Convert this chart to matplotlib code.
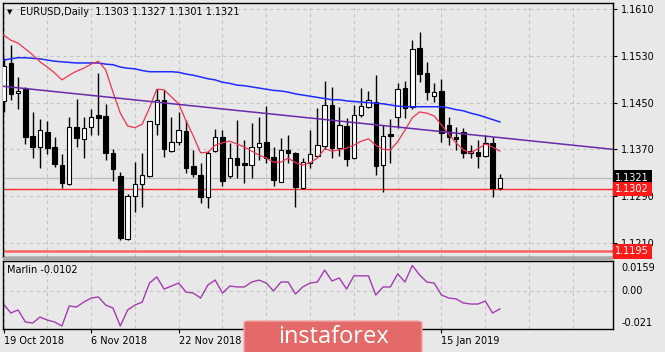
import matplotlib
matplotlib.use('Agg')
import matplotlib.pyplot as plt
from matplotlib.patches import Rectangle, FancyBboxPatch

# EURUSD daily bars, 19 Oct 2018 .. 25 Jan 2019
opens = [1.1453, 1.1518, 1.1466, 1.1473, 1.1393, 1.1374, 1.1400, 1.1374, 1.1343, 1.1311,
         1.1408, 1.1388, 1.1408, 1.1429, 1.1427, 1.1364, 1.1324, 1.1216, 1.1290, 1.1311,
         1.1324, 1.1413, 1.1455, 1.1367, 1.1383, 1.1401, 1.1341, 1.1326, 1.1288, 1.1367,
         1.1391, 1.1324, 1.1355, 1.1347, 1.1343, 1.1374, 1.1383, 1.1357, 1.1314, 1.1369,
         1.1364, 1.1304, 1.1347, 1.1359, 1.1376, 1.1446, 1.1372, 1.1410, 1.1355, 1.1429,
         1.1443, 1.1451, 1.1343, 1.1396, 1.1425, 1.1475, 1.1443, 1.1544, 1.1501, 1.1461,
         1.1470, 1.1412, 1.1391, 1.1400, 1.1364, 1.1365, 1.1358, 1.1381, 1.1303]
highs = [1.1526, 1.1549, 1.1494, 1.1477, 1.1434, 1.1422, 1.1419, 1.1391, 1.1362, 1.1425,
         1.1456, 1.1425, 1.1439, 1.1501, 1.1448, 1.1370, 1.1331, 1.1293, 1.1348, 1.1364,
         1.1419, 1.1473, 1.1472, 1.1425, 1.1434, 1.1420, 1.1369, 1.1346, 1.1367, 1.1405,
         1.1403, 1.1381, 1.1420, 1.1386, 1.1415, 1.1425, 1.1444, 1.1374, 1.1389, 1.1395,
         1.1365, 1.1355, 1.1403, 1.1441, 1.1487, 1.1477, 1.1443, 1.1424, 1.1446, 1.1475,
         1.1470, 1.1497, 1.1412, 1.1422, 1.1484, 1.1487, 1.1557, 1.1571, 1.1520, 1.1484,
         1.1490, 1.1425, 1.1408, 1.1406, 1.1377, 1.1386, 1.1395, 1.1391, 1.1327]
lows = [1.1434, 1.1454, 1.1439, 1.1379, 1.1355, 1.1338, 1.1362, 1.1340, 1.1304, 1.1309,
        1.1374, 1.1355, 1.1394, 1.1394, 1.1352, 1.1316, 1.1215, 1.1215, 1.1263, 1.1271,
        1.1323, 1.1394, 1.1357, 1.1365, 1.1377, 1.1329, 1.1323, 1.1278, 1.1269, 1.1365,
        1.1307, 1.1321, 1.1321, 1.1312, 1.1321, 1.1352, 1.1347, 1.1307, 1.1314, 1.1347,
        1.1271, 1.1302, 1.1338, 1.1357, 1.1370, 1.1355, 1.1359, 1.1341, 1.1353, 1.1425,
        1.1441, 1.1326, 1.1297, 1.1347, 1.1406, 1.1424, 1.1439, 1.1485, 1.1454, 1.1451,
        1.1382, 1.1377, 1.1369, 1.1355, 1.1355, 1.1338, 1.1357, 1.1288, 1.1301]
closes = [1.1513, 1.1465, 1.1470, 1.1391, 1.1374, 1.1403, 1.1372, 1.1345, 1.1312, 1.1408,
          1.1389, 1.1407, 1.1425, 1.1424, 1.1364, 1.1336, 1.1218, 1.1290, 1.1311, 1.1326,
          1.1419, 1.1455, 1.1371, 1.1383, 1.1403, 1.1338, 1.1328, 1.1288, 1.1364, 1.1391,
          1.1316, 1.1355, 1.1343, 1.1343, 1.1374, 1.1381, 1.1355, 1.1317, 1.1369, 1.1364,
          1.1305, 1.1348, 1.1362, 1.1377, 1.1446, 1.1372, 1.1412, 1.1353, 1.1429, 1.1444,
          1.1455, 1.1341, 1.1393, 1.1393, 1.1473, 1.1441, 1.1542, 1.1499, 1.1468, 1.1468,
          1.1398, 1.1391, 1.1388, 1.1364, 1.1367, 1.1358, 1.1381, 1.1304, 1.1321]

red_ma = [1.1566, 1.1557, 1.1552, 1.1542, 1.1532, 1.1520, 1.1511, 1.1501, 1.1489, 1.1497,
          1.1504, 1.1509, 1.1516, 1.1521, 1.1506, 1.1468, 1.1432, 1.1410, 1.1407, 1.1413,
          1.1441, 1.1473, 1.1472, 1.1460, 1.1448, 1.1419, 1.1393, 1.1364, 1.1365, 1.1377,
          1.1381, 1.1384, 1.1379, 1.1374, 1.1367, 1.1360, 1.1355, 1.1348, 1.1348, 1.1355,
          1.1347, 1.1343, 1.1347, 1.1355, 1.1371, 1.1367, 1.1369, 1.1372, 1.1377, 1.1384,
          1.1388, 1.1377, 1.1370, 1.1369, 1.1383, 1.1403, 1.1424, 1.1434, 1.1432, 1.1427,
          1.1412, 1.1396, 1.1381, 1.1369, 1.1364, 1.1371, 1.1379, 1.1374, 1.1367]
blue_ma = [1.1523, 1.1525, 1.1527, 1.1527, 1.1526, 1.1525, 1.1523, 1.1521, 1.1520, 1.1519,
           1.1518, 1.1518, 1.1518, 1.1518, 1.1516, 1.1515, 1.1511, 1.1509, 1.1508, 1.1505,
           1.1503, 1.1503, 1.1503, 1.1503, 1.1502, 1.1499, 1.1497, 1.1494, 1.1491, 1.1489,
           1.1485, 1.1483, 1.1480, 1.1479, 1.1477, 1.1475, 1.1473, 1.1471, 1.1470, 1.1468,
           1.1465, 1.1463, 1.1461, 1.1459, 1.1457, 1.1455, 1.1455, 1.1453, 1.1452, 1.1451,
           1.1450, 1.1449, 1.1448, 1.1446, 1.1444, 1.1443, 1.1443, 1.1443, 1.1443, 1.1443,
           1.1443, 1.1441, 1.1438, 1.1436, 1.1432, 1.1429, 1.1425, 1.1421, 1.1417]
marlin = [-0.0074, -0.0125, -0.0108, -0.0176, -0.0182, -0.0148, -0.0165, -0.0176, -0.0199, -0.0085,
          -0.0091, -0.0063, -0.0040, -0.0034, -0.0080, -0.0097, -0.0199, -0.0108, -0.0080, -0.0063,
          0.0045, 0.0080, 0.0011, 0.0028, 0.0045, -0.0006, -0.0012, -0.0040, 0.0034, 0.0062,
          -0.0012, 0.0028, 0.0023, 0.0023, 0.0051, 0.0062, 0.0045, 0.0000, 0.0051, 0.0051,
          -0.0017, 0.0023, 0.0045, 0.0051, 0.0119, 0.0057, 0.0074, 0.0011, 0.0086, 0.0086,
          0.0086, -0.0023, 0.0023, 0.0023, 0.0097, 0.0051, 0.0145, 0.0091, 0.0051, 0.0045,
          -0.0023, -0.0040, -0.0045, -0.0068, -0.0074, -0.0074, -0.0057, -0.0125, -0.0102]

price_ticks = [1.1610, 1.1530, 1.1450, 1.1370, 1.1290, 1.1210]
support = 1.1302
support2 = 1.1195
bid = 1.1321
trend = [(0, 1.1478), (68, 1.1390)]
# labels at bars 36 and 48 sit under the watermark, so only these show
date_idx = [0, 12, 24, 60]
date_labels = ['19 Oct 2018', '6 Nov 2018', '22 Nov 2018', '15 Jan 2019']
marlin_ticks = [0.0159, 0.0, -0.021]
marlin_labels = ['0.0159', '0.00', '-0.021']

W, H = 665, 352
BG = '#e8e8e8'
FS = 7

fig = plt.figure(figsize=(W / 100, H / 100), dpi=100, facecolor=BG)


def box(x0, y0, x1, y1):
    return [x0 / W, 1 - y1 / H, (x1 - x0) / W, (y1 - y0) / H]


ax = fig.add_axes(box(3, 3, 613, 257))
sub = fig.add_axes(box(3, 261, 613, 329), sharex=ax)
for a in (ax, sub):
    a.set_facecolor(BG)
    for s in a.spines.values():
        s.set_color('black')
        s.set_linewidth(1)

n = len(closes)
xs = list(range(n))

# grid
for g in range(0, 84, 6):
    ax.axvline(g, color='#c4c4c4', lw=0.8, ls=(0, (3, 3)), zorder=0)
    sub.axvline(g, color='#c4c4c4', lw=0.8, ls=(0, (3, 3)), zorder=0)
for p in price_ticks:
    ax.axhline(p, color='#c4c4c4', lw=0.8, ls=(0, (3, 3)), zorder=0)
sub.axhline(0, color='#c4c4c4', lw=0.8, ls=(0, (3, 3)), zorder=0)

# level lines
ax.axhline(bid, color='#bdbdbd', lw=0.9, zorder=1)
ax.axhline(support, color='#ff2a2a', lw=1.0, zorder=1)
ax.axhline(support2, color='#ff6464', lw=1.8, zorder=1)

# candles
ax.vlines(xs, lows, highs, color='black', lw=1, zorder=2)
for i in xs:
    o, c = opens[i], closes[i]
    h = max(abs(c - o), 0.00008)
    ax.bar(i, h, bottom=min(o, c), width=0.62,
           color='white' if c > o else 'black', edgecolor='black', lw=0.8, zorder=3)

# indicators
ax.plot(xs, blue_ma, color='#1f2bff', lw=1.1, zorder=4)
ax.plot(xs, red_ma, color='#ec3550', lw=0.9, zorder=4)
ax.axline(trend[0], trend[1], color='#6a2aa8', lw=1.1, zorder=4)

ax.set_xlim(-0.07, 83.5)
ax.set_ylim(1.11854, 1.16208)
sub.set_ylim(-0.02159, 0.01704)

# price axis
ax.yaxis.tick_right()
ax.set_yticks(price_ticks)
ax.set_yticklabels(['%.4f' % p for p in price_ticks])
ax.tick_params(axis='y', length=3, width=0.8, pad=3, labelsize=FS, colors='black')
ax.tick_params(axis='x', bottom=False, labelbottom=False)

tr = ax.get_yaxis_transform()
ax.text(1.004, bid, '%.4f' % bid, transform=tr, fontsize=FS, color='white', va='center', ha='left',
        bbox=dict(boxstyle='square,pad=0.25', fc='black', ec='none'), zorder=6, clip_on=False)
ax.text(1.004, support, '%.4f' % support, transform=tr, fontsize=FS, color='white', va='center', ha='left',
        bbox=dict(boxstyle='square,pad=0.25', fc='#ff1a1a', ec='none'), zorder=6, clip_on=False)
ax.text(1.004, support2, '%.4f' % support2, transform=tr, fontsize=FS, color='white', va='center', ha='left',
        bbox=dict(boxstyle='square,pad=0.25', fc='#ff1a1a', ec='none'), zorder=6, clip_on=False)

ax.text(0.007, 0.965, '\u25bc', transform=ax.transAxes, fontsize=5, va='center', ha='left')
ax.text(0.028, 0.965, 'EURUSD,Daily  %.4f %.4f %.4f %.4f' % (opens[-1], highs[-1], lows[-1], closes[-1]),
        transform=ax.transAxes, fontsize=FS, va='center', ha='left')

# Marlin window
sub.plot(xs, marlin, color='#a23cb0', lw=1.0)
sub.yaxis.tick_right()
sub.set_yticks(marlin_ticks)
sub.set_yticklabels(marlin_labels)
sub.tick_params(axis='y', length=0, pad=6, labelsize=FS, colors='black')
for t, va in zip(sub.get_yticklabels(), ['top', 'center', 'bottom']):
    t.set_verticalalignment(va)
sub.text(0.007, 0.87, 'Marlin %.4f' % marlin[-1], transform=sub.transAxes, fontsize=FS, va='center', ha='left')

sub.set_xticks(date_idx)
sub.set_xticklabels(date_labels)
sub.tick_params(axis='x', length=3, width=0.8, pad=2, labelsize=FS, colors='black')
for t in sub.get_xticklabels():
    t.set_horizontalalignment('left')

# separator between windows
fig.patches.append(Rectangle((3 / W, 1 - 261 / H), 610 / W, 4 / H, transform=fig.transFigure,
                             fc='#a8a8a8', ec='none', zorder=0))

# watermark
fig.patches.append(FancyBboxPatch((244 / W, 1 - 356 / H), 178 / W, 35 / H, transform=fig.transFigure,
                                  boxstyle='round,pad=0,rounding_size=0.006', fc='#e46a6a', ec='#f2a8a8',
                                  lw=1, zorder=10))
fig.text(333 / W, 1 - 337 / H, 'instaforex', color='white', fontsize=17, family='Open Sans',
         ha='center', va='center', zorder=11)

fig.savefig('out.png', dpi=100, facecolor=BG)
